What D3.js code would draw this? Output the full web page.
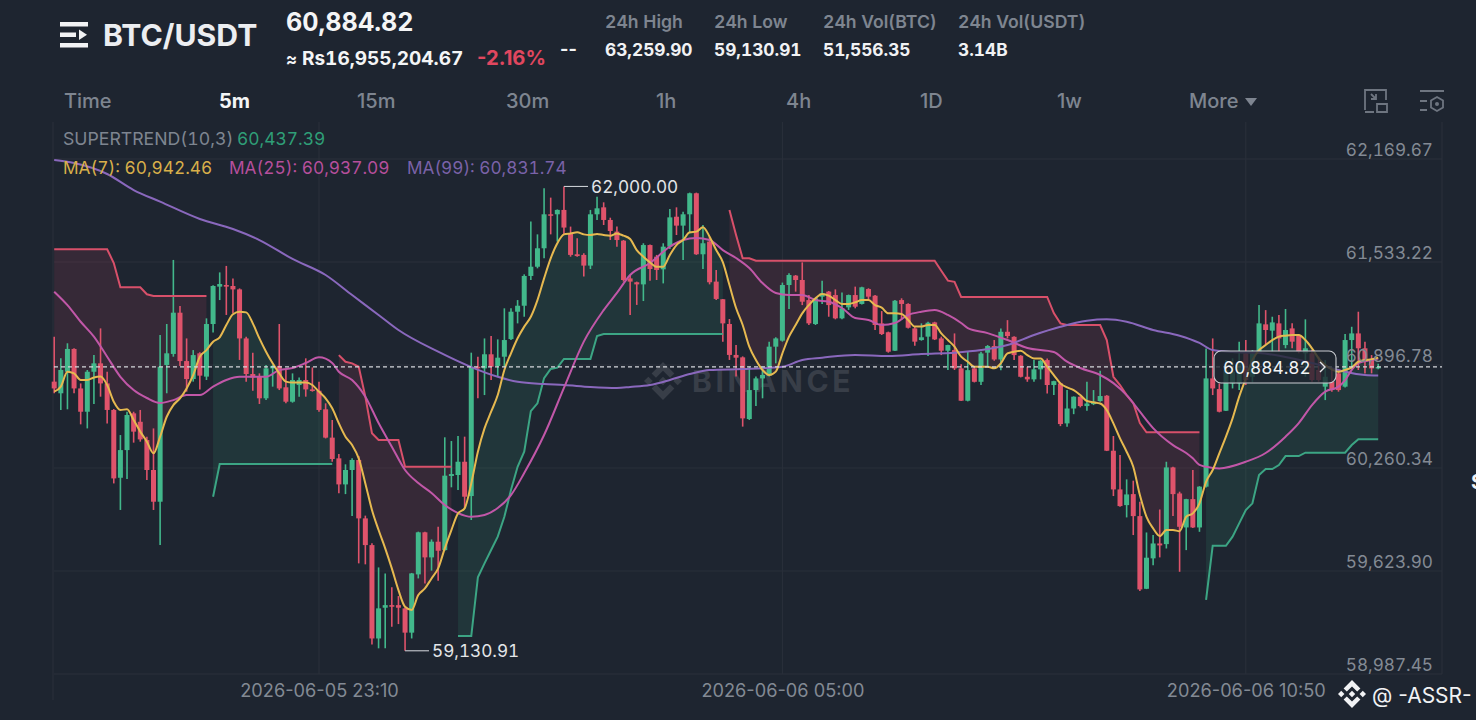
<!DOCTYPE html>
<html><head><meta charset="utf-8"><title>BTC/USDT</title>
<script src="https://cdnjs.cloudflare.com/ajax/libs/d3/7.9.0/d3.min.js"></script>
<style>html,body{margin:0;padding:0;background:#1e2530;overflow:hidden}svg{display:block}text{font-family:Inter,"Noto Sans",sans-serif;font-variant-numeric:tabular-nums}</style>
</head><body><svg id="c" width="1476" height="720"></svg>
<script>
const opens=[60794,60722,60855,60996,60752,60608,60855,60907,60783,60619,
60200,60371,60598,60546,60433,60248,60052,60897,60965,61220,
60921,60810,60969,60825,61150,61381,61391,61385,61364,61061,
60841,60825,60691,60876,60891,60759,60670,60773,60804,60746,
60738,60623,60448,60320,60159,60248,60310,59949,59784,59207,
59397,59413,59413,59393,59243,59603,59863,59708,59805,59753,
60211,60217,60299,60087,60886,60876,60963,60891,60948,61057,
61226,61263,61447,61504,61618,61828,61828,61855,61710,61581,
61577,61511,61828,61871,61793,61721,61665,61432,61408,61395,
61638,61566,61488,61628,61813,61758,61828,61958,61581,61659,
61412,61303,61150,60959,60944,60563,60742,60814,60831,61010,
61047,61391,61449,61422,61298,61150,61319,61350,61329,61185,
61253,61329,61274,61366,61325,61154,61099,60985,61298,61274,
61123,61051,61072,61160,61061,60985,60989,60876,60676,60876,
60793,60973,61014,60931,61102,61071,60954,60824,60808,60870,
60927,60773,60783,60536,60628,60701,60643,60655,60674,60707,
60367,60128,60031,60099,59963,59514,59702,59794,59790,60264,
60103,59893,60068,59893,60145,60814,60748,60614,60783,60783,
60969,60824,60969,61148,61109,61154,61020,61123,61082,60969,
60969,60866,60763,60793,60845,60763,61051,61092,61000,60927,
60876];
const highs=[61072,60938,61031,61000,60783,60866,60958,61123,60855,60625,
60464,60608,60608,60619,60454,60505,61082,61150,61546,61261,
61061,60989,60975,61185,61390,61469,61509,61432,61370,61072,
60973,60845,60897,60897,61150,60866,60845,60820,60938,60882,
60794,60660,60557,60347,60283,60320,60334,59966,59795,59646,
59609,59523,59469,59398,59612,59867,59867,59819,59898,60450,
60427,60458,60454,60973,60948,61061,61076,61055,61247,61247,
61298,61457,61783,61704,61989,61931,61858,62000,61752,61680,
61587,61855,61937,61902,61807,61752,61669,61453,61412,61649,
61642,61577,61649,61861,61871,61844,61962,61962,61762,61690,
61484,61305,61181,61020,60950,60886,60825,60886,61041,61068,
61406,61463,61453,61531,61329,61312,61418,61354,61364,61344,
61332,61381,61380,61371,61329,61230,61103,61298,61309,61278,
61133,61154,61164,61164,61072,61022,61092,60902,60979,60886,
60979,61020,61051,61123,61174,61074,60958,60886,60927,60927,
60937,60799,60787,60742,60703,60703,60793,60742,60861,60711,
60458,60340,60190,60182,60052,59862,59846,60004,60299,60268,
60114,60070,60248,60148,60999,61061,60783,60927,60938,61041,
61051,60989,61267,61236,61195,61206,61243,61154,61086,61179,
60990,60948,60927,60866,60866,61088,61133,61226,61041,60958,
60905];
const lows=[60722,60619,60623,60722,60530,60505,60656,60701,60536,60165,
60001,60192,60417,60423,60186,60001,59784,60722,60948,60891,
60732,60794,60746,60804,61097,61298,61206,61216,60928,60794,
60738,60656,60680,60763,60742,60660,60664,60701,60701,60732,
60608,60443,60299,60104,60099,59964,59671,59665,59170,59146,
59146,59280,59296,59130.91,59207,59578,59547,59626,59564,59749,
60141,60124,60011,59939,60691,60711,60804,60825,60886,61051,
61154,61195,61422,61494,61556,61704,61659,61700,61566,61566,
61443,61490,61793,61762,61669,61628,61412,61206,61268,61292,
61418,61422,61401,61614,61700,61546,61710,61577,61490,61395,
61298,61041,60928,60825,60516,60557,60643,60691,60825,60907,
61041,61243,61350,61267,61144,61144,61274,61195,61179,61179,
61237,61247,61270,61298,61113,61082,60973,60983,61175,61123,
61016,61047,60952,61051,60958,60866,60866,60674,60672,60789,
60773,60886,60923,60865,61061,60927,60820,60793,60793,60808,
60721,60711,60519,60515,60593,60635,60614,60649,60670,60365,
60087,60021,59955,59846,59500,59512,59660,59708,59763,59963,
59619,59753,59889,59866,60140,60711,60604,60612,60752,60742,
60773,60790,60965,61020,60979,60979,61000,61000,60969,60824,
60793,60793,60680,60732,60732,60758,60866,60866,60845,60845,
60870];
const closes=[60752,60866,60996,60752,60608,60855,60907,60783,60619,60196,
60371,60588,60485,60437,60248,60052,60886,60969,61220,60921,
60810,60958,60831,61150,61385,61397,61381,61364,61061,60841,
60820,60691,60876,60891,60752,60670,60804,60804,60746,60736,
60619,60448,60316,60159,60248,60310,59949,59784,59207,59393,
59413,59403,59397,59243,59609,59863,59708,59805,59749,60213,
60223,60299,60083,60886,60876,60963,60886,60942,61051,61226,
61263,61447,61504,61618,61828,61820,61855,61746,61577,61570,
61511,61828,61865,61793,61725,61669,61422,61412,61395,61638,
61490,61484,61628,61809,61758,61828,61958,61581,61649,61408,
61305,61154,60959,60942,60567,60742,60814,60835,61010,61061,
61391,61453,61422,61288,61154,61309,61340,61267,61185,61247,
61329,61257,61377,61319,61144,61088,60979,61294,61274,61127,
61041,61068,61158,61055,60985,61020,60876,60676,60865,60793,
60968,61014,60931,61102,61076,60958,60824,60808,60870,60923,
60773,60797,60532,60628,60701,60643,60659,60670,60705,60367,
60128,60025,60097,59963,59510,59706,59794,59782,60264,60099,
59897,60068,59893,60145,60814,60752,60608,60866,60855,60907,
60804,60969,61154,61113,61160,61061,61113,61041,60979,61000,
60804,60804,60824,60742,60742,61051,61092,61000,60917,60876,
60884.82];
const ma7=[60732,60763,60855,60845,60804,60804,60820,60825,60773,60670,
60619,60623,60557,60485,60423,60351,60454,60577,60649,60691,
60752,60835,60948,60989,61041,61068,61144,61210,61226,61222,
61154,61061,60979,60907,60845,60794,60788,60788,60788,60773,
60732,60691,60629,60536,60454,60402,60320,60165,60001,59877,
59764,59640,59506,59403,59383,59475,59516,59578,59640,59764,
59877,59980,60011,60165,60361,60505,60608,60711,60866,60969,
61062,61134,61195,61298,61432,61556,61649,61704,61710,61717,
61704,61700,61706,61700,61696,61710,61696,61675,61607,61566,
61531,61504,61504,61577,61638,61669,61717,61721,61748,61690,
61607,61533,61391,61249,61144,61010,60928,60866,60835,60856,
60969,61072,61144,61216,61267,61309,61335,61325,61298,61274,
61274,61284,61298,61298,61267,61251,61216,61216,61212,61175,
61134,61134,61144,61144,61092,61051,61010,60948,60917,60886,
60886,60886,60876,60907,60968,60979,60985,60958,60937,60937,
60886,60834,60783,60758,60742,60711,60674,60666,60659,60618,
60536,60443,60361,60268,60093,59959,59887,59840,59877,59877,
59870,59959,59980,60042,60175,60248,60351,60454,60567,60701,
60814,60927,60989,61020,61051,61072,61078,61082,61082,61051,
61000,60938,60896,60870,60855,60866,60882,60917,60927,60932,
60942.46];
const ma25Idx=[0,2,4,6,8,10,12,14,16,18,20,22,24,26,28,30,32,34,36,38,40,42,43,45,47,49,51,53,55,57,59,61,63,65,67,69,71,74,77,80,83,85,87,90,93,95,97,99,101,103,105,107,109,111,113,115,117,119,121,123,125,127,129,131,133,135,137,138,141,144,147,151,153,155,158,160,162,164,166,169,171,172,173,174,176,180,183,186,188,190,192,194,195,196,197,199,200];
const ma25=[61350,61267,61164,61072,60948,60824,60742,60693,60662,60680,60711,60711,60763,60804,60824,60824,60824,60866,60878,60909,60944,60909,60855,60804,60701,60538,60392,60248,60167,60106,60032,59982,59959,59970,60013,60093,60229,60464,60755,61041,61236,61342,61453,61527,61628,61669,61681,61669,61607,61558,61496,61403,61342,61329,61329,61298,61288,61249,61187,61175,61144,61156,61206,61226,61236,61206,61156,61125,61094,61051,61002,60977,60917,60878,60835,60785,60711,60608,60507,60402,60353,60320,60279,60268,60258,60299,60353,60454,60538,60649,60732,60763,60804,60866,60909,60928,60937.09];
const ma99Idx=[0,3,8,12,16,22,27,31,36,41,45,49,52,58,63,67,70,74,77,81,85,87,90,93,96,99,104,110,113,116,121,126,131,136,140,144,148,152,156,159,162,166,170,173,175,178,182,186,190,194,195,198,200];
const ma99=[62163,62145,62077,61978,61906,61799,61737,61669,61552,61453,61329,61206,61113,60979,60884,60824,60793,60779,60773,60761,60755,60761,60773,60804,60841,60866,60872,60886,60928,60942,60959,60952,60965,60973,60989,61020,61082,61133,61170,61179,61164,61113,61078,61033,60989,60977,60971,60946,60909,60866,60855,60835,60831.74];
const supertrend=[61612,61612,61612,61612,61612,61612,61612,61612,61612,61527,
61377,61377,61377,61377,61334,61323,61323,61323,61323,61323,
61323,61323,61323,61323,60083,60285,60285,60285,60285,60285,
60285,60285,60285,60285,60285,60285,60285,60285,60285,60285,
60285,60285,60285,60958,60917,60907,60886,60701,60475,60433,
60433,60433,60433,60268,60268,60268,60268,60268,60268,60268,
60268,59222,59222,59222,59585,59671,59754,59836,59959,60124,
60268,60361,60612,60660,60816,60872,60880,60934,60934,60934,
60934,60934,61076,61088,61088,61088,61088,61088,61088,61088,
61088,61088,61088,61088,61088,61088,61088,61088,61088,61088,
61088,61088,61854,61700,61556,61556,61541,61541,61541,61541,
61541,61541,61541,61541,61541,61541,61541,61541,61541,61541,
61541,61541,61541,61541,61541,61541,61541,61541,61541,61541,
61541,61541,61541,61541,61479,61418,61411,61317,61317,61317,
61317,61317,61317,61317,61317,61317,61317,61317,61317,61317,
61317,61218,61154,61144,61144,61144,61144,61144,61144,61051,
60824,60773,60711,60662,60538,60481,60481,60481,60481,60481,
60481,60481,60481,60481,59445,59780,59780,59780,59836,59918,
60001,60042,60217,60254,60254,60279,60334,60334,60334,60355,
60355,60355,60355,60355,60355,60355,60402,60438,60437.39,60437.39,
60437.39];
const trendStarts=[0,24,43,61,102,174];
const trendEnds=[23,42,60,101,173,200];
const trendDirs=["down","up","down","up","down","up"];
const yTicks=[62169.67,61533.22,60896.78,60260.34,59623.90,58987.45];
const xTickIdx=[40,110,180];
const xTickLabels=["2026-06-05 23:10","2026-06-06 05:00","2026-06-06 10:50"];
const navLabels=["Time","5m","15m","30m","1h","4h","1D","1w","More"];
const lastPrice=60884.82, peak=62000, trough=59130.91;

const svg=d3.select("#c");
const C={bg:"#1e2530",grid:"#2a303b",axis:"#838a94",up:"#42b88b",dn:"#df536b",stUp:"#3ca584",stDn:"#d8506a",m7:"#e6b950",m25:"#c157a8",m99:"#8a68bd"};
svg.append("rect").attr("width",1476).attr("height",720).attr("fill",C.bg);
const x=d3.scaleLinear().domain([0,200]).range([54.2,1378.2]);
const y=d3.scaleLinear().domain([58987.45,62169.67]).range([674,159]);
const fp=d3.format(",.2f");
function T(s,px,py,size,fill,weight,anchor){return svg.append("text").attr("x",px).attr("y",py).attr("font-size",size).attr("fill",fill).attr("font-weight",weight||400).attr("text-anchor",anchor||"start").text(s);}
const logoParts=[[[0,-1],[.6,-.4],[.37,-.17],[0,-.54],[-.37,-.17],[-.6,-.4]],[[0,1],[.6,.4],[.37,.17],[0,.54],[-.37,.17],[-.6,.4]],[[0,-.23],[.23,0],[0,.23],[-.23,0]],[[-.77,-.23],[-.54,0],[-.77,.23],[-1,0]],[[.77,-.23],[1,0],[.77,.23],[.54,0]]];
function logo(cx,cy,r,fill){svg.append("g").selectAll("polygon").data(logoParts).join("polygon").attr("fill",fill).attr("points",d=>d.map(p=>[cx+p[0]*r,cy+p[1]*r].join(",")).join(" "));}

// grid
const grid=svg.append("g").attr("stroke",C.grid).attr("stroke-width",1);
yTicks.forEach(v=>grid.append("line").attr("x1",54).attr("x2",1442).attr("y1",y(v)).attr("y2",y(v)));
xTickIdx.forEach(i=>grid.append("line").attr("x1",x(i)).attr("x2",x(i)).attr("y1",122).attr("y2",674));
grid.append("line").attr("x1",53).attr("x2",53).attr("y1",122).attr("y2",700);
grid.append("line").attr("x1",1442).attr("x2",1442).attr("y1",122).attr("y2",674);

// watermark
logo(663,381,19,"#383e48");
T("BINANCE",692,392,30,"#383e48",700).attr("letter-spacing",3.6);

// supertrend fill and line
const idxs=(a,b)=>d3.range(a,b+1);
const area=d3.area().x(i=>x(i)).y0(i=>y(supertrend[i])).y1(i=>y(ma7[i]));
const stLine=d3.line().x(i=>x(i)).y(i=>y(supertrend[i]));
trendStarts.forEach((s,k)=>{
  const up=trendDirs[k]==="up";
  svg.append("path").attr("d",area(idxs(s,trendEnds[k]))).attr("fill",up?"rgba(60,190,140,0.115)":"rgba(224,70,100,0.125)");
});

// candles
const rows=d3.range(closes.length);
const g=svg.append("g");
g.selectAll("line").data(rows).join("line")
 .attr("x1",i=>x(i)).attr("x2",i=>x(i)).attr("y1",i=>y(highs[i])).attr("y2",i=>y(lows[i]))
 .attr("stroke",i=>closes[i]>=opens[i]?C.up:C.dn).attr("stroke-width",1.6);
g.selectAll("rect").data(rows).join("rect")
 .attr("x",i=>x(i)-2.5).attr("width",5)
 .attr("y",i=>y(Math.max(opens[i],closes[i])))
 .attr("height",i=>Math.max(1.5,Math.abs(y(opens[i])-y(closes[i]))))
 .attr("fill",i=>closes[i]>=opens[i]?C.up:C.dn);

trendStarts.forEach((s,k)=>{
  const up=trendDirs[k]==="up";
  svg.append("path").attr("d",stLine(idxs(s,trendEnds[k]))).attr("fill","none").attr("stroke",up?C.stUp:C.stDn).attr("stroke-width",2);
});

// moving averages
svg.append("path").attr("fill","none").attr("stroke",C.m99).attr("stroke-width",2)
 .attr("d",d3.line().curve(d3.curveMonotoneX).x((d,k)=>x(ma99Idx[k])).y(d=>y(d))(ma99));
svg.append("path").attr("fill","none").attr("stroke",C.m25).attr("stroke-width",2)
 .attr("d",d3.line().curve(d3.curveMonotoneX).x((d,k)=>x(ma25Idx[k])).y(d=>y(d))(ma25));
svg.append("path").attr("fill","none").attr("stroke",C.m7).attr("stroke-width",2)
 .attr("d",d3.line().curve(d3.curveMonotoneX).x((d,k)=>x(k)).y(d=>y(d))(ma7));

// axes
const ay=svg.append("g").attr("transform","translate(1433,0)")
 .call(d3.axisLeft(y).tickValues(yTicks).tickFormat(fp).tickSize(0));
ay.select(".domain").remove();
ay.selectAll("text").attr("x",0).attr("dy",0).attr("y",-3.5).attr("fill",C.axis).attr("font-size",17.2).attr("font-family","Inter,sans-serif");
const ax=svg.append("g").attr("transform","translate(0,697)")
 .call(d3.axisBottom(x).tickValues(xTickIdx).tickFormat((d,k)=>xTickLabels[k]).tickSize(0));
ax.select(".domain").remove();
ax.selectAll("text").attr("y",0).attr("dy",0).attr("fill",C.axis).attr("font-size",18.2).attr("font-family","Inter,sans-serif").style("font-variant-numeric","normal");

// current price
svg.append("line").attr("x1",54).attr("x2",1442).attr("y1",y(lastPrice)).attr("y2",y(lastPrice)).attr("stroke","#d5d8dc").attr("stroke-width",1.2).attr("stroke-dasharray","4 3");
svg.append("rect").attr("x",1214).attr("y",351).attr("width",122).attr("height",32).attr("rx",7).attr("fill","rgba(30,37,48,0.8)").attr("stroke","#c9ccd1").attr("stroke-width",1.1);
T(fp(lastPrice),1223,374,17.3,"#f2f3f5",400);
svg.append("path").attr("d","M1320 362 l5 5 l-5 5").attr("fill","none").attr("stroke","#e6e8ea").attr("stroke-width",1.4);

// high/low annotations
const note=(i,v,px,tx)=>{svg.append("polyline").attr("fill","none").attr("stroke","#c8ccd1").attr("stroke-width",1.1).attr("points",`${x(i)},${y(v)} ${px},${y(v)}`);T(fp(v),tx,y(v)+6.5,17.2,"#e3e5e8",400);};
note(77,peak,588,591);
note(53,trough,429,432);

// header
const ic=svg.append("g").attr("fill","#f1f2f4");
ic.append("rect").attr("x",60).attr("y",22).attr("width",28).attr("height",4.5);
ic.append("rect").attr("x",60).attr("y",32.5).attr("width",16).attr("height",4.5);
ic.append("rect").attr("x",60).attr("y",43).attr("width",28).attr("height",4.5);
ic.append("path").attr("d","M79 29.5 L87 34.7 L79 40 Z");
T("BTC/USDT",103,46,30.2,"#eceef1",700);
T("60,884.82",286,31,25.2,"#f4f5f6",700);
T("≈",286,65,17,"#f4f5f6",700);
T("Rs16,955,204.67",302,65,19,"#f4f5f6",700);
T("-2.16%",477,65,20.2,"#e0475f",700).style("font-variant-numeric","normal");
T("--",560,55,18,"#f4f5f6",700).style("font-variant-numeric","normal");
[[605,"24h High","63,259.90"],[714,"24h Low","59,130.91"],[823,"24h Vol(BTC)","51,556.35"],[958,"24h Vol(USDT)","3.14B"]].forEach(r=>{
  T(r[1],r[0],28,17.6,"#7e8590",600);T(r[2],r[0],56,17.3,"#f1f2f4",700);
});
const navX=[64,219,357,506,656,786,920,1057,1189];
navLabels.forEach((s,k)=>T(s,navX[k],108,20,k===1?"#f4f5f6":"#7e8590",k===1?700:500).style("font-variant-numeric","normal"));
svg.append("path").attr("d","M1245 98 h12 l-6 8 z").attr("fill","#7e8590");
const ico=svg.append("g").attr("fill","none").attr("stroke","#6e7580").attr("stroke-width",1.8);
ico.append("path").attr("d","M1365 110 v-20 h21 v10 M1365 112 h9 M1377 104 h10 v8 h-10 z M1371 94 l5 5 M1376 94 v5 h-5");
ico.append("path").attr("d","M1420 91 h24 M1420 101 h7 M1420 110 h7");
ico.append("path").attr("d","M1437 97 l6 3.5 v7 l-6 3.5 l-6 -3.5 v-7 z");
svg.append("circle").attr("cx",1437).attr("cy",104).attr("r",2).attr("fill","#6e7580");

// legend
T("SUPERTREND(10,3)",63,145,17.7,"#7e8590",400);
T("60,437.39",237,145,17.4,"#2f9e77",400);
T("MA(7): 60,942.46",63,173.5,17.3,"#d8af4a",400);
T("MA(25): 60,937.09",229,173.5,17.3,"#b64f9c",400);
T("MA(99): 60,831.74",407,173.5,17.2,"#7a62a8",400);

// footer mark
logo(1352,694,14,"#f1f2f4");
T("@ -ASSR-",1372,703,21,"#f1f2f4",400).style("font-variant-numeric","normal");
T("S",1471,489,20,"#f1f2f4",700);
</script></body></html>
